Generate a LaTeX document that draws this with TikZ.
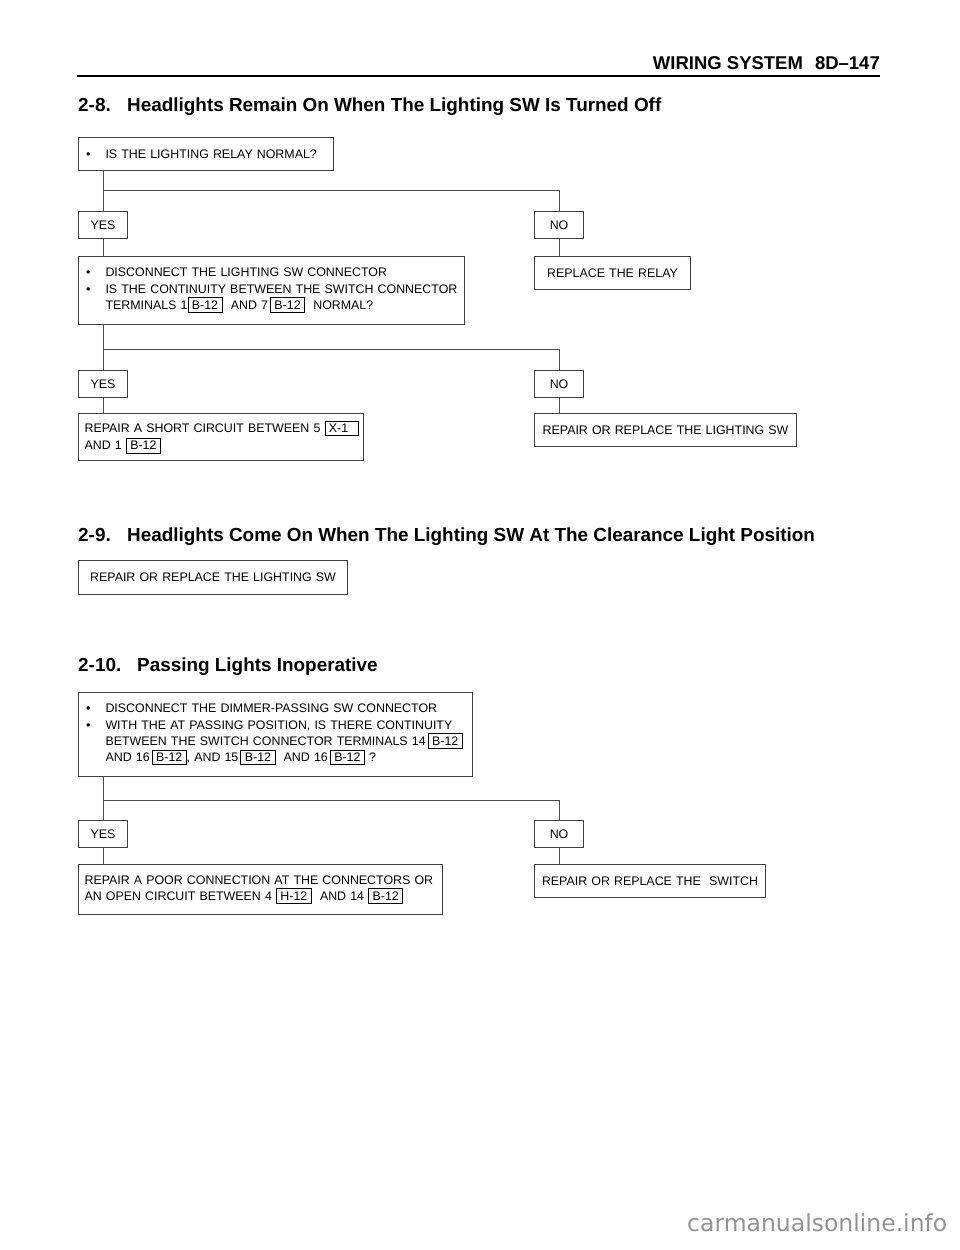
\documentclass[tikz,border=0pt]{standalone}
\usepackage{fontspec}
\setmainfont{Liberation Sans}
\newfontfamily\wmfont{DejaVu Sans}
\newcommand\boxfont{\fontsize{12.4}{16.3}\selectfont}
\newcommand\bul{\makebox[21pt][l]{\hspace{1.5pt}\textbullet}}
\newcommand\ind{\hspace*{21pt}}
\newcommand\refbox[1]{{\setlength\fboxsep{2.6pt}\setlength\fboxrule{0.8pt}\fbox{\hspace{1pt}#1\hspace{1pt}}}}
\tikzset{
  frame/.style={draw=black!75, line width=1.1pt, anchor=north west, inner xsep=6pt, inner ysep=0pt, font=\boxfont},
  leftbox/.style={frame, align=left},
  midbox/.style={frame, align=center},
  ynbox/.style={frame, align=center, minimum width=49pt, minimum height=27pt, inner xsep=0pt},
  conn/.style={draw=black!70, line width=0.9pt},
  titletext/.style={anchor=base west, inner sep=0pt, font=\fontsize{18.9}{22}\selectfont\bfseries},
}
\begin{document}
\begin{tikzpicture}[x=1pt,y=-1pt]
\useasboundingbox (0,0) rectangle (960,1250);
\fill[white] (0,0) rectangle (960,1250);

% header
\node[anchor=base east, inner sep=0pt, font=\fontsize{18.5}{22}\selectfont\bfseries] (hdr) at (880,69.5) {WIRING SYSTEM\hspace{12pt}8D–147};
\draw[line width=2.4pt] (77,76) -- (880,76);

% 2-8
\node[titletext] (t1) at (78,111.5) {\makebox[49pt][l]{2-8.}Headlights Remain On When The Lighting SW Is Turned Off};

\node[leftbox, minimum height=33pt, text width=243pt] (q1) at (78,137) {\bul IS THE LIGHTING RELAY NORMAL?};
\node[ynbox] (yes1) at (78,211) {YES};
\node[ynbox] (no1) at (534,211) {NO};
\node[leftbox, minimum height=68pt, text width=374pt] (q2) at (78,256)
  {\bul DISCONNECT THE LIGHTING SW CONNECTOR\\
   \bul IS THE CONTINUITY BETWEEN THE SWITCH CONNECTOR\\
   \ind TERMINALS 1\refbox{B-12}\ \ AND 7\,\refbox{B-12}\ \ NORMAL?};
\node[midbox, minimum height=33pt, text width=144pt] (r1) at (534,256) {REPLACE THE RELAY};
\node[ynbox] (yes2) at (78,370) {YES};
\node[ynbox] (no2) at (534,370) {NO};
\node[leftbox, minimum height=47pt, text width=273pt] (s1) at (78,413)
  {\mbox{REPAIR A SHORT CIRCUIT BETWEEN 5~\refbox{X-1\hspace{6pt}}}\\[1pt]
   AND 1 \refbox{B-12}};
\node[midbox, minimum height=33pt, text width=250pt] (r2) at (534,413) {REPAIR OR REPLACE THE LIGHTING SW};

\coordinate (j1) at (0,190);
\coordinate (j2) at (0,349);
\draw[conn] (q1.south -| yes1.north) -- (yes1.north);
\draw[conn] (j1 -| yes1.north) -| (no1.north);
\draw[conn] (yes1.south) -- (q2.north -| yes1.south);
\draw[conn] (no1.south) -- (r1.north -| no1.south);
\draw[conn] (q2.south -| yes2.north) -- (yes2.north);
\draw[conn] (j2 -| yes2.north) -| (no2.north);
\draw[conn] (yes2.south) -- (s1.north -| yes2.south);
\draw[conn] (no2.south) -- (r2.north -| no2.south);

% 2-9
\node[titletext] (t2) at (78,541.5) {\makebox[49pt][l]{2-9.}Headlights Come On When The Lighting SW At The Clearance Light Position};
\node[midbox, minimum height=34pt, text width=257pt] (r3) at (78,560) {REPAIR OR REPLACE THE LIGHTING SW};

% 2-10
\node[titletext] (t3) at (78,671.5) {\makebox[59pt][l]{2-10.}Passing Lights Inoperative};
\node[leftbox, minimum height=84pt, text width=382pt] (q3) at (78,692)
  {\bul DISCONNECT THE DIMMER-PASSING SW CONNECTOR\\
   \bul WITH THE AT PASSING POSITION, IS THERE CONTINUITY\\
   \ind BETWEEN THE SWITCH CONNECTOR TERMINALS 14\,\refbox{B-12}\\
   \ind AND 16\,\refbox{B-12}, AND 15\,\refbox{B-12}\ \ AND 16\,\refbox{B-12}\ ?};
\node[ynbox] (yes3) at (78,820) {YES};
\node[ynbox] (no3) at (534,820) {NO};
\node[leftbox, minimum height=50pt, text width=352pt] (s2) at (78,864)
  {REPAIR A POOR CONNECTION AT THE CONNECTORS OR\\
   AN OPEN CIRCUIT BETWEEN 4 \refbox{H-12}\ \ AND 14 \refbox{B-12}};
\node[midbox, minimum height=33pt, text width=219pt] (r4) at (534,864) {REPAIR OR REPLACE THE\ \ SWITCH};

\coordinate (j3) at (0,800);
\draw[conn] (q3.south -| yes3.north) -- (yes3.north);
\draw[conn] (j3 -| yes3.north) -| (no3.north);
\draw[conn] (yes3.south) -- (s2.north -| yes3.south);
\draw[conn] (no3.south) -- (r4.north -| no3.south);

% watermark
\node[anchor=base west, inner sep=0pt, font=\wmfont\fontsize{23.5}{26}\selectfont, text=black!42] (wm) at (687,1231) {carmanualsonline.info};
\end{tikzpicture}
\end{document}
